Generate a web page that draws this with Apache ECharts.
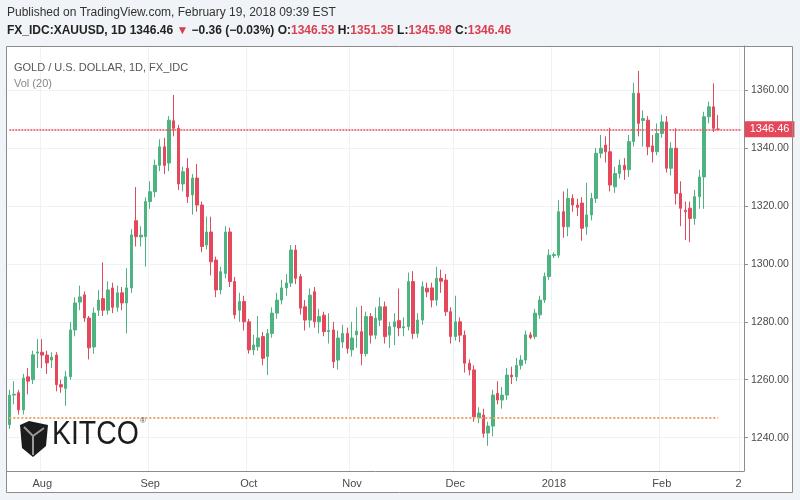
<!DOCTYPE html>
<html>
<head>
<meta charset="utf-8">
<title>Gold / U.S. Dollar</title>
<script src="https://cdn.jsdelivr.net/npm/echarts@6/dist/echarts.min.js"></script>
<style>
  html, body { margin: 0; padding: 0; background: #f0f3f7; }
  #chart { width: 800px; height: 500px; }
</style>
</head>
<body>
<div id="chart"></div>
<script>
// trading days shown on the axis (last five are empty space on the right)
var dates = [
  '2017-07-21','2017-07-24','2017-07-25','2017-07-26','2017-07-27','2017-07-28','2017-07-31',
  '2017-08-01','2017-08-02','2017-08-03','2017-08-04','2017-08-07','2017-08-08','2017-08-09','2017-08-10','2017-08-11',
  '2017-08-14','2017-08-15','2017-08-16','2017-08-17','2017-08-18','2017-08-21','2017-08-22','2017-08-23','2017-08-24',
  '2017-08-25','2017-08-28','2017-08-29','2017-08-30','2017-08-31',
  '2017-09-01','2017-09-04','2017-09-05','2017-09-06','2017-09-07','2017-09-08','2017-09-11','2017-09-12','2017-09-13',
  '2017-09-14','2017-09-15','2017-09-18','2017-09-19','2017-09-20','2017-09-21','2017-09-22','2017-09-25','2017-09-26',
  '2017-09-27','2017-09-28','2017-09-29',
  '2017-10-02','2017-10-03','2017-10-04','2017-10-05','2017-10-06','2017-10-09','2017-10-10','2017-10-11','2017-10-12',
  '2017-10-13','2017-10-16','2017-10-17','2017-10-18','2017-10-19','2017-10-20','2017-10-23','2017-10-24','2017-10-25',
  '2017-10-26','2017-10-27','2017-10-30','2017-10-31',
  '2017-11-01','2017-11-02','2017-11-03','2017-11-06','2017-11-07','2017-11-08','2017-11-09','2017-11-10','2017-11-13',
  '2017-11-14','2017-11-15','2017-11-16','2017-11-17','2017-11-20','2017-11-21','2017-11-22','2017-11-23','2017-11-24',
  '2017-11-27','2017-11-28','2017-11-29','2017-11-30',
  '2017-12-01','2017-12-04','2017-12-05','2017-12-06','2017-12-07','2017-12-08','2017-12-11','2017-12-12','2017-12-13',
  '2017-12-14','2017-12-15','2017-12-18','2017-12-19','2017-12-20','2017-12-21','2017-12-22','2017-12-25','2017-12-26',
  '2017-12-27','2017-12-28','2017-12-29',
  '2018-01-01','2018-01-02','2018-01-03','2018-01-04','2018-01-05','2018-01-08','2018-01-09','2018-01-10','2018-01-11',
  '2018-01-12','2018-01-15','2018-01-16','2018-01-17','2018-01-18','2018-01-19','2018-01-22','2018-01-23','2018-01-24',
  '2018-01-25','2018-01-26','2018-01-29','2018-01-30','2018-01-31',
  '2018-02-01','2018-02-02','2018-02-05','2018-02-06','2018-02-07','2018-02-08','2018-02-09','2018-02-12','2018-02-13',
  '2018-02-14','2018-02-15','2018-02-16','2018-02-19',
  '2018-02-20','2018-02-21','2018-02-22','2018-02-23','2018-02-26'
];

var opens = [
  1244.5, 1254.7, 1255.5, 1249.6, 1261, 1260, 1269.2,
  1269.5, 1268.5, 1266.8, 1268.5, 1258.3, 1257, 1261, 1277.2, 1286.8, 1289.3, 1281.3, 1271.3, 1284, 1288, 1284, 1291.7, 1285, 1290, 1286.5, 1291.7, 1314.9, 1309.3, 1309.4,
  1321.5, 1324.9, 1334, 1340.4, 1334.8, 1349.4, 1346.8, 1327.6, 1333, 1323.8, 1329.6, 1320.3, 1306.5, 1311, 1301.3, 1291, 1296.7, 1311, 1293.9, 1284, 1287,
  1280, 1270.3, 1271.4, 1274.9, 1268, 1276, 1283, 1287.5, 1291.7, 1293.4, 1304.8, 1295.6, 1285.2, 1280.6, 1290.4, 1280, 1282.3, 1276.6, 1277.2, 1266.8, 1273, 1276,
  1270.3, 1275.5, 1276.6, 1269, 1281.8, 1275.4, 1280.6, 1285.2, 1275.4, 1278.3, 1280.4, 1277.9, 1278.3, 1293.9, 1276, 1280.6, 1291.6, 1291.7, 1287.5, 1295, 1294.4, 1283.5,
  1274.9, 1280, 1275.4, 1265.7, 1263.4, 1246.8, 1247.8, 1241.6, 1244, 1255.3, 1253, 1254.7, 1261.6, 1261, 1265, 1266.8, 1275.5, 1274.9, 1282.4, 1287.5, 1295.6,
  1302.8, 1303, 1318, 1312.8, 1322.6, 1320.3, 1321, 1312.8, 1316.9, 1322.6, 1338.2, 1341, 1338.7, 1326.6, 1331.2, 1334, 1332.5, 1342.2, 1358.9, 1349.5, 1349.6, 1340.7, 1338.7,
  1345, 1349, 1333, 1339.9, 1324.3, 1318.5, 1319.2, 1315.7, 1323.2, 1330, 1350.8, 1354.2, 1346.53
];
var closes = [
  1254.7, 1255.0, 1249.6, 1260.6, 1259.5, 1268.6, 1269.6,
  1268.5, 1265.8, 1267.8, 1258.3, 1257.5, 1261, 1277.2, 1286.5, 1288.6, 1281.3, 1271, 1283, 1287.5, 1284, 1291, 1285, 1290, 1286.5, 1291.7, 1310, 1309.4, 1309.9, 1321.5,
  1324.9, 1334, 1340.4, 1334, 1349.6, 1346.8, 1327.6, 1331.8, 1323.2, 1329.6, 1320.3, 1306, 1311, 1300.7, 1291, 1297.3, 1311, 1293.9, 1282.4, 1287, 1280,
  1270.3, 1272, 1274.4, 1267.4, 1276, 1283, 1287.5, 1291.7, 1293.4, 1304.8, 1295, 1284.7, 1280.6, 1289.2, 1280, 1281.8, 1276.6, 1277, 1266.2, 1274.4, 1276, 1270.8,
  1274.4, 1276.8, 1269, 1281.8, 1275.4, 1281.3, 1285.2, 1274.9, 1278.3, 1280, 1277.9, 1278.3, 1293.9, 1276, 1280.6, 1292.1, 1290.3, 1287.5, 1295, 1294, 1283.5, 1274.9,
  1280, 1275.4, 1265.7, 1263.4, 1247.2, 1248.5, 1241.5, 1244, 1254.7, 1253, 1254.7, 1261.6, 1261, 1265, 1266.8, 1275.5, 1274.6, 1283, 1287.5, 1295.6, 1303,
  1303.2, 1318, 1312.8, 1322.6, 1320.3, 1319.5, 1312.3, 1316.9, 1322.6, 1338.2, 1339.9, 1338.7, 1327.2, 1331.2, 1334.1, 1332.5, 1342.2, 1358.9, 1348.5, 1350.2, 1340.4, 1338.7, 1345,
  1349, 1333, 1339.9, 1324.3, 1319.2, 1318, 1315.7, 1323.2, 1330, 1350.8, 1354.2, 1346.8, 1346.46
];
var lows = [
  1243, 1251.5, 1248, 1248, 1255, 1258.5, 1264,
  1264, 1262, 1264, 1256, 1255.5, 1251, 1260, 1275, 1284, 1280, 1267, 1269, 1282, 1282, 1282.5, 1283, 1283.5, 1284, 1276, 1290, 1306, 1306, 1299,
  1319, 1323, 1332, 1331, 1332, 1344, 1325.5, 1325, 1321, 1317, 1318, 1304, 1305, 1296, 1288.5, 1289.5, 1295, 1292, 1281, 1280, 1277,
  1269, 1268.5, 1270, 1265, 1261.6, 1274.5, 1281, 1286, 1289, 1292, 1293, 1282.5, 1277, 1278, 1278, 1276, 1275, 1272.5, 1264, 1263.5, 1271, 1269,
  1268, 1271, 1265, 1268, 1272.5, 1274, 1278.5, 1272.5, 1271, 1272, 1275, 1275, 1277, 1274, 1274.5, 1279, 1288.5, 1285, 1285.5, 1290, 1282, 1272.5,
  1273.5, 1273, 1262.5, 1261.5, 1245.5, 1245, 1240, 1237.2, 1240.5, 1251.5, 1250, 1253, 1258.5, 1259.5, 1263.5, 1265.5, 1274, 1274, 1281, 1286.5, 1294.5,
  1302, 1302, 1309, 1309.5, 1318, 1316.5, 1308, 1310, 1315, 1321, 1336.5, 1335, 1325, 1324.5, 1329.5, 1329, 1330, 1340.5, 1344, 1340.5, 1337.5, 1335, 1337.5,
  1343.5, 1331.5, 1330.5, 1320.5, 1313, 1308.2, 1307.5, 1313.5, 1319, 1319, 1348.5, 1345.5, 1345.98
];
var highs = [
  1256.5, 1259.5, 1256.5, 1262, 1264, 1270, 1274,
  1274, 1270, 1269.5, 1269.5, 1260, 1263, 1280, 1288.5, 1292.5, 1290.5, 1282, 1285, 1291, 1300.5, 1294, 1293.5, 1292.5, 1292, 1298.5, 1312, 1326.5, 1313, 1323,
  1328.5, 1336, 1343, 1343.5, 1351, 1358.3, 1348, 1333.5, 1336.5, 1331, 1334.5, 1321.5, 1316.3, 1316.3, 1302.5, 1299, 1313, 1312.5, 1295.5, 1290, 1289,
  1281, 1275.5, 1282, 1276.5, 1277.5, 1285, 1290, 1294.5, 1296.5, 1306.5, 1306.5, 1296.5, 1287.5, 1291.5, 1292, 1284.5, 1283.5, 1283, 1280, 1277, 1279, 1278,
  1280, 1285, 1285.5, 1283.5, 1283, 1285, 1288.5, 1287, 1280, 1283, 1291.5, 1281.5, 1297, 1297.5, 1283, 1294, 1293.5, 1293.5, 1299, 1298, 1296.5, 1285,
  1289, 1281.5, 1277, 1267, 1265, 1250.5, 1250, 1245.5, 1256.5, 1259.5, 1257.5, 1264, 1264.5, 1267.5, 1268.5, 1277, 1276.5, 1284.5, 1289, 1297, 1305,
  1304, 1322, 1325, 1326, 1324, 1322.5, 1323, 1328, 1324.5, 1340, 1344.5, 1344, 1347, 1333.5, 1336, 1336.5, 1344.5, 1362.5, 1366.6, 1353, 1351, 1344.5, 1348.5,
  1351.5, 1351, 1342, 1346.8, 1328.5, 1321.5, 1321.5, 1325.5, 1332.5, 1352.5, 1356, 1362.3, 1351.35
];

var tickDates = ['2017-08-01', '2017-09-01', '2017-10-02', '2017-11-01', '2017-12-01', '2018-01-01', '2018-02-01', '2018-02-26'];
var tickTexts = ['Aug', 'Sep', 'Oct', 'Nov', 'Dec', '2018', 'Feb', '2  '];

var lastPrice = 1346.46;
var supportLevel = 1246.9;

var upColor = '#4db381';
var downColor = '#e5485a';
var textColor = '#4a4a4a';
var gridColor = '#eef1f5';
var orange = '#f2a06c';

var candles = opens.map(function (o, i) {
    return [o, closes[i], lows[i], highs[i]];
});

function isTick(index, value) {
    return tickDates.indexOf(value) >= 0;
}

var chart = echarts.init(document.getElementById('chart'));

var priceLineStyle = { color: '#e8505e', type: [2, 1], width: 1.5, opacity: 1 };
var supportLineStyle = { color: orange, type: 'dotted', width: 2 };

var option = {
    animation: false,
    backgroundColor: '#f0f3f7',
    textStyle: { fontFamily: 'Liberation Sans, Arial, sans-serif' },
    grid: {
        left: 7,
        right: 56,
        top: 46,
        bottom: 29
    },
    xAxis: {
        type: 'category',
        data: dates,
        boundaryGap: true,
        axisLine: { lineStyle: { color: '#8c8c8c' } },
        axisTick: { alignWithLabel: true, interval: isTick, length: 4, lineStyle: { color: '#8c8c8c' } },
        axisLabel: {
            interval: isTick,
            color: textColor,
            fontSize: 11,
            margin: 7,
            formatter: function (value) {
                return tickTexts[tickDates.indexOf(value)];
            }
        },
        splitLine: { show: true, interval: isTick, lineStyle: { color: gridColor } }
    },
    yAxis: {
        type: 'value',
        position: 'right',
        min: 1228.5,
        max: 1375.2,
        splitNumber: 7,
        minInterval: 20,
        maxInterval: 20,
        axisLine: { show: true, lineStyle: { color: '#8c8c8c' } },
        axisTick: { show: true, length: 4, lineStyle: { color: '#8c8c8c' } },
        axisLabel: {
            color: textColor,
            fontSize: 10.5,
            margin: 7,
            showMinLabel: false,
            showMaxLabel: false,
            formatter: function (v) {
                return v % 20 === 0 ? v.toFixed(2) : '';
            }
        },
        splitLine: { lineStyle: { color: gridColor } }
    },
    series: [
        {
            type: 'candlestick',
            data: candles,
            barWidth: 3,
            itemStyle: {
                color: upColor,
                color0: downColor,
                borderColor: upColor,
                borderColor0: downColor,
                borderWidth: 1
            },
            markLine: {
                silent: true,
                symbol: 'none',
                label: { show: false },
                data: [
                    [
                        { coord: [dates[0], lastPrice], lineStyle: priceLineStyle },
                        {
                            coord: [dates[dates.length - 1], lastPrice],
                            lineStyle: priceLineStyle,
                            label: {
                                show: true,
                                position: 'end',
                                distance: 3,
                                formatter: lastPrice.toFixed(2),
                                color: '#fff',
                                fontSize: 11,
                                backgroundColor: downColor,
                                padding: [3, 5, 2, 5]
                            }
                        }
                    ],
                    [
                        { coord: [dates[0], supportLevel], lineStyle: supportLineStyle },
                        { coord: [dates[151], supportLevel], lineStyle: supportLineStyle }
                    ]
                ]
            }
        }
    ],
    graphic: [
        {
            type: 'rect', z: -100, silent: true,
            shape: { x: 6.5, y: 46.5, width: 786, height: 446 },
            style: { fill: '#ffffff' }
        },
        {
            type: 'rect', z: 100, silent: true,
            shape: { x: 6.5, y: 46.5, width: 786, height: 446 },
            style: { fill: 'none', stroke: '#8c8c8c', lineWidth: 1 }
        },
        {
            type: 'text', z: 100, left: 7, top: 7,
            style: {
                text: 'Published on TradingView.com, February 19, 2018 09:39 EST',
                fill: '#333', fontSize: 12, fontFamily: 'Liberation Sans, Arial, sans-serif'
            }
        },
        {
            type: 'text', z: 100, left: 7, top: 25,
            style: {
                text: '{k|FX_IDC:XAUUSD, 1D} {k|1346.46} {r|▼} {k|\u22120.36 (\u22120.03%)} {k|O:}{r|1346.53} {k|H:}{r|1351.35} {k|L:}{r|1345.98} {k|C:}{r|1346.46}',
                fontSize: 12,
                fontFamily: 'Liberation Sans, Arial, sans-serif',
                rich: {
                    k: { fill: '#222', fontWeight: 'bold', fontSize: 12 },
                    r: { fill: '#d9404f', fontWeight: 'bold', fontSize: 12 }
                }
            }
        },
        {
            type: 'text', z: 100, left: 14, top: 62,
            style: {
                text: 'GOLD / U.S. DOLLAR, 1D, FX_IDC',
                fill: '#555', fontSize: 11, fontFamily: 'Liberation Sans, Arial, sans-serif'
            }
        },
        {
            type: 'text', z: 100, left: 14, top: 78,
            style: {
                text: 'Vol (20)',
                fill: '#888', fontSize: 11, fontFamily: 'Liberation Sans, Arial, sans-serif'
            }
        },
        // KITCO logo
        {
            type: 'polygon', z: 100, silent: true,
            shape: { points: [[20, 425], [29, 421], [48, 425], [46, 446], [33, 457], [22, 448]] },
            style: { fill: '#1c1c1c' }
        },
        {
            type: 'polyline', z: 101, silent: true,
            shape: { points: [[24, 427], [33, 436], [44, 428]] },
            style: { stroke: '#9a9a9a', lineWidth: 2, fill: 'none' }
        },
        {
            type: 'line', z: 101, silent: true,
            shape: { x1: 33, y1: 436, x2: 33, y2: 455 },
            style: { stroke: '#9a9a9a', lineWidth: 2 }
        },
        {
            type: 'text', z: 100, x: 52, y: 418, scaleX: 0.86,
            style: {
                text: 'KITCO',
                fill: '#1c1c1c', fontSize: 33, fontFamily: 'Liberation Sans, Arial, sans-serif'
            }
        },
        {
            type: 'text', z: 100, x: 140, y: 417,
            style: { text: '®', fill: '#555', fontSize: 8, fontFamily: 'Liberation Sans, Arial, sans-serif' }
        }
    ]
};

chart.setOption(option);
</script>
</body>
</html>
